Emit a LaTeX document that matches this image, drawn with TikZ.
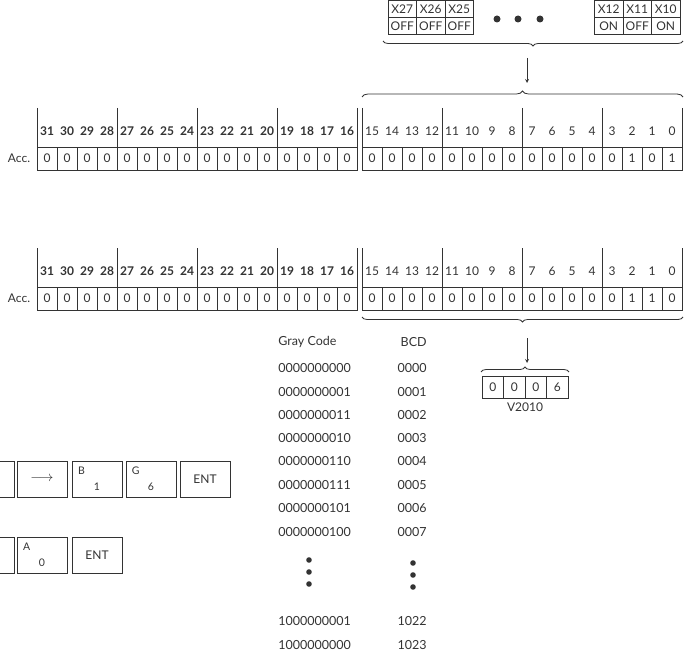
\documentclass[tikz,border=0pt]{standalone}
\usepackage{fontspec}
\setmainfont{Lato}
\usetikzlibrary{decorations.pathreplacing}

\begin{document}
\begin{tikzpicture}[x=1pt, y=-1pt, >=stealth, line width=0.8pt, color=black!80,
    font=\fontsize{12}{14}\selectfont,
    bitcell/.style={draw, minimum width=20pt, minimum height=23pt, inner sep=0pt},
    bithead/.style={font=\fontsize{12}{14}\selectfont\bfseries},
    xcell/.style={draw, minimum width=28.5pt, minimum height=17pt, inner sep=0pt},
    vcell/.style={draw, minimum width=21.5pt, minimum height=22pt, inner sep=0pt},
    keybox/.style={draw, minimum width=50pt, minimum height=36pt, inner sep=0pt},
    keylet/.style={inner sep=0pt, font=\fontsize{10.5}{11}\selectfont},
    codetext/.style={inner sep=0pt, font=\fontsize{12.5}{14}\selectfont},
    curly/.style={decorate, decoration={brace, amplitude=#1}}, curly/.default=5pt]
    \useasboundingbox (0,0) rectangle (687,652);
    % input points
    \foreach \t/\s [count=\i from 0] in {X27/OFF, X26/OFF, X25/OFF} {
        \node[xcell] (x\t) at ({402.25+28.5*\i},9) {\t};
        \node[xcell] (s\t) at ({402.25+28.5*\i},26) {\s};
    }
    \foreach \t/\s [count=\i from 0] in {X12/ON, X11/OFF, X10/ON} {
        \node[xcell] (x\t) at ({608.75+28.5*\i},9) {\t};
        \node[xcell] (s\t) at ({608.75+28.5*\i},26) {\s};
    }
    \foreach \dx in {497,518,540}
        \fill (\dx,19) circle (3.5pt);
    \draw[curly] (683,41) -- (383,41);
    \coordinate (xtip) at (527,58);
    \coordinate (acctop) at (527,83);
    \draw[->] (xtip) -- (acctop);
    \draw[curly=6pt] (362,97) -- (683,97);
    % accumulator before and after
    \foreach \r/\ytop/\bits in {a/147/{0,0,0,0,0,0,0,0,0,0,0,0,0,1,0,1},
                                b/287/{0,0,0,0,0,0,0,0,0,0,0,0,0,1,1,0}} {
        \node (\r-acc) at (19,{\ytop+11.5}) {Acc.};
        \foreach \b [count=\i from 0] in {31,30,...,16} {
            \node[bithead] (\r-n\b) at ({47+20*\i},{\ytop-16}) {\b};
            \node[bitcell] (\r-b\b) at ({47+20*\i},{\ytop+11.5}) {0};
        }
        \foreach \b [count=\i from 0] in {15,14,...,0}
            \node (\r-n\b) at ({372+20*\i},{\ytop-16}) {\b};
        \foreach \v [count=\i from 0] in \bits
            \node[bitcell] (\r-l\i) at ({372+20*\i},{\ytop+11.5}) {\v};
        \foreach \sx in {37,117,197,277,357,362,442,522,602,682}
            \draw (\sx,{\ytop-39}) -- (\sx,\ytop);
    }
    \draw[curly] (683,317) -- (362,317);
    \coordinate (acctip) at (527,338);
    \coordinate (vtop) at (527,363);
    \draw[->] (acctip) -- (vtop);
    \draw[curly=5pt] (481,372) -- (569,372);
    \foreach \v [count=\i from 0] in {0,0,0,6}
        \node[vcell] (v\i) at ({492.75+21.5*\i},387) {\v};
    \node (vname) at (525,407) {V2010};
    % conversion table
    \node[codetext, anchor=west] (gray) at (278,342) {Gray Code};
    \node[codetext, anchor=east] (bcd) at (427,342) {BCD};
    \foreach \g/\c/\y [count=\i] in {0000000000/0000/368, 0000000001/0001/392,
        0000000011/0002/415, 0000000010/0003/438, 0000000110/0004/461,
        0000000111/0005/485, 0000000101/0006/508, 0000000100/0007/532,
        1000000001/1022/621, 1000000000/1023/645} {
        \node[codetext, anchor=west] (g\i) at (278,\y) {\g};
        \node[codetext, anchor=east] (c\i) at (427,\y) {\c};
    }
    \foreach \y in {560,572,584} {
        \fill (309,\y) circle (2.8pt);
        \fill (413,{\y+3}) circle (2.8pt);
    }
    % keystrokes
    \node[keybox] (k0) at (-11,479) {};
    \node[keybox] (kto) at (42,479) {\fontsize{15}{15}\selectfont$\longrightarrow$};
    \node[keybox] (kb) at (97,479) {};
    \node[keybox] (kg) at (151,479) {};
    \node[keybox] (kent) at (205,479) {ENT};
    \node[keybox] (k1) at (-11,555) {};
    \node[keybox] (ka) at (42,555) {};
    \node[keybox] (kent2) at (97,555) {ENT};
    \foreach \k/\l/\d in {kb/B/1, kg/G/6, ka/A/0} {
        \node[keylet] (\k-l) at ([shift={(10,10)}]\k.north west) {\l};
        \node[keylet] (\k-d) at ([shift={(0,8)}]\k.center) {\d};
    }
\end{tikzpicture}
\end{document}
